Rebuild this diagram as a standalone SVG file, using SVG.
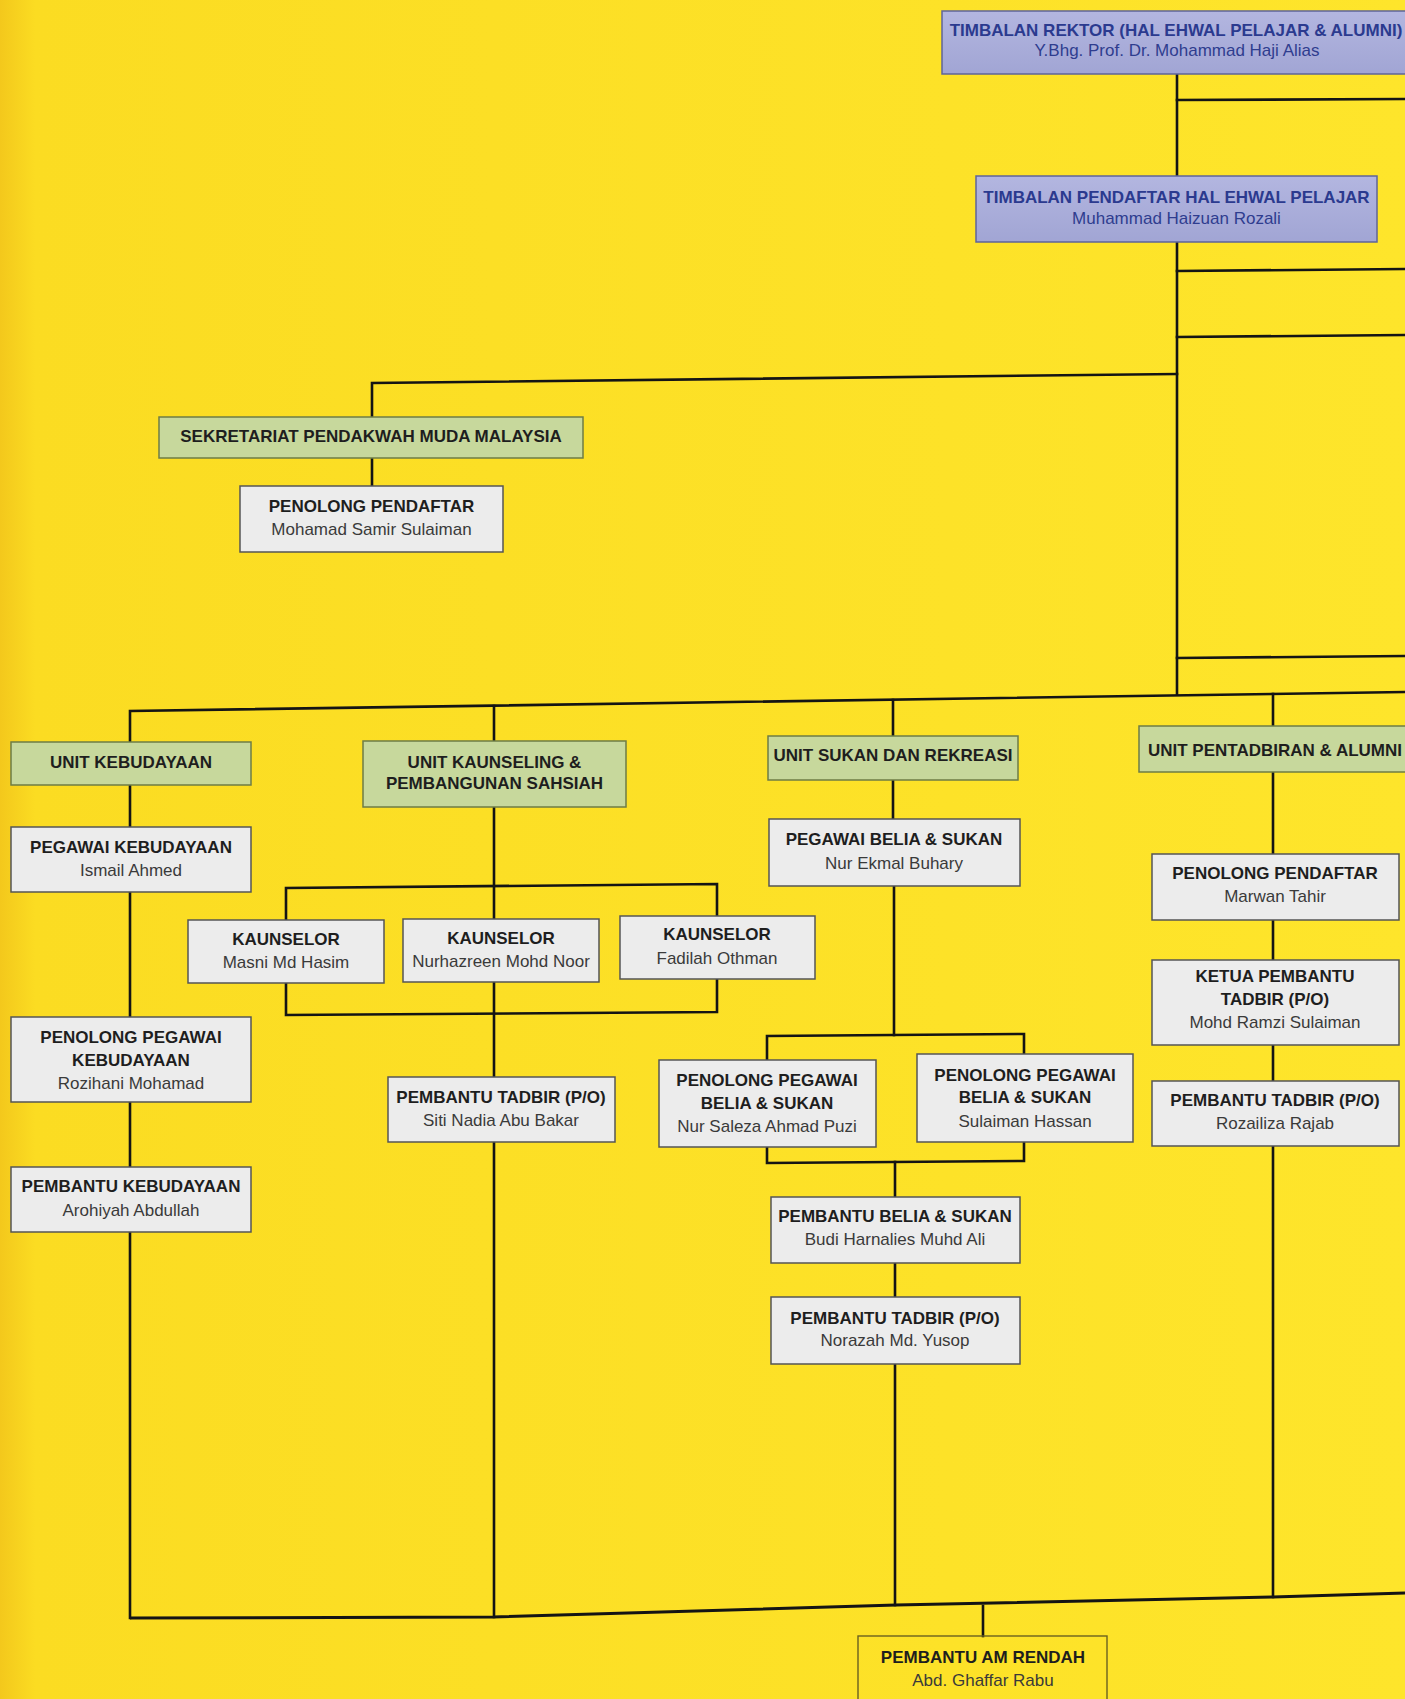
<svg xmlns="http://www.w3.org/2000/svg" width="1405" height="1699" viewBox="0 0 1405 1699">
<defs>
<linearGradient id="bgg" x1="0" y1="0" x2="1" y2="0">
<stop offset="0" stop-color="#f3c81c"/>
<stop offset="0.025" stop-color="#fbdc22"/>
<stop offset="1" stop-color="#fee52b"/>
</linearGradient>
<linearGradient id="lavg" x1="0" y1="0" x2="0" y2="1">
<stop offset="0" stop-color="#b3b6e0"/>
<stop offset="1" stop-color="#a1a5d4"/>
</linearGradient>
</defs>
<style>
.lav{fill:url(#lavg);stroke:#5f6499;stroke-width:1.5}
.grn{fill:#c7d89c;stroke:#6e7c45;stroke-width:1.5}
.wht{fill:#ececec;stroke:#555;stroke-width:1.5}
.pln{fill:none;stroke:#6a6120;stroke-width:1.4}
.t{font-family:'Liberation Sans',Arial,Helvetica,sans-serif;font-size:17px;text-anchor:middle}
.b{font-weight:bold;fill:#1e1e1e}
.n{fill:#3a3a3a}
.tb{font-weight:bold;fill:#2b3a8f}
.tn{fill:#2f3d8f}
.ln{fill:none;stroke:#141414;stroke-width:2.6;stroke-linejoin:miter;stroke-linecap:square}
.bus{fill:none;stroke:#141414;stroke-width:3}
</style>
<rect x="0" y="0" width="1405" height="1699" fill="url(#bgg)"/>

<g id="connectors">
<path class="ln" d="M1177,74 V176"/>
<path class="ln" d="M1177,100 L1405,99"/>
<path class="ln" d="M1177,242 V694"/>
<path class="ln" d="M1177,271 L1405,269"/>
<path class="ln" d="M1177,337 L1405,335"/>
<path class="ln" d="M1177,374 L372,383 V417"/>
<path class="ln" d="M372,458 V486"/>
<path class="ln" d="M1177,658 L1405,656"/>
<path class="ln" d="M130,742 V711 L1405,692"/>
<path class="ln" d="M494,706 V741"/>
<path class="ln" d="M893,700 V736"/>
<path class="ln" d="M1273,694 V726"/>
<path class="ln" d="M130,785 V827"/>
<path class="ln" d="M130,892 V1017"/>
<path class="ln" d="M130,1102 V1167"/>
<path class="ln" d="M130,1232 V1618"/>
<path class="ln" d="M494,807 V919"/>
<path class="ln" d="M286,920 V888 L717,884 V916"/>
<path class="ln" d="M286,983 V1015 L717,1012 V979"/>
<path class="ln" d="M494,982 V1077"/>
<path class="ln" d="M494,1142 V1617"/>
<path class="ln" d="M893,780 V819"/>
<path class="ln" d="M894,886 V1035"/>
<path class="ln" d="M767,1060 V1036 L1024,1034 V1054"/>
<path class="ln" d="M767,1147 V1163 L1024,1161 V1143"/>
<path class="ln" d="M895,1162 V1197"/>
<path class="ln" d="M895,1263 V1297"/>
<path class="ln" d="M895,1364 V1605"/>
<path class="ln" d="M1273,772 V854"/>
<path class="ln" d="M1273,920 V960"/>
<path class="ln" d="M1273,1045 V1081"/>
<path class="ln" d="M1273,1146 V1597"/>
<path class="bus" d="M130,1618 L493,1617 L896,1605 L1273,1597 L1405,1593"/>
<path class="ln" d="M983,1606 V1636"/>
</g>

<g id="n-timbalan-rektor">
<rect class="lav" x="942" y="11" width="472" height="63"/>
<text class="t tb" x="1176" y="35.5">TIMBALAN REKTOR (HAL EHWAL PELAJAR &amp; ALUMNI)</text>
<text class="t tn" x="1177" y="56">Y.Bhg. Prof. Dr. Mohammad Haji Alias</text>
</g>

<g id="n-timbalan-pendaftar">
<rect class="lav" x="976" y="176" width="401" height="66"/>
<text class="t tb" x="1176.5" y="203">TIMBALAN PENDAFTAR HAL EHWAL PELAJAR</text>
<text class="t tn" x="1176.5" y="224">Muhammad Haizuan Rozali</text>
</g>

<g id="n-sekretariat">
<rect class="grn" x="159" y="417" width="424" height="41"/>
<text class="t b" x="371" y="442">SEKRETARIAT PENDAKWAH MUDA MALAYSIA</text>
</g>

<g id="n-pp-samir">
<rect class="wht" x="240" y="486" width="263" height="66"/>
<text class="t b" x="371.5" y="512">PENOLONG PENDAFTAR</text>
<text class="t n" x="371.5" y="535">Mohamad Samir Sulaiman</text>
</g>

<g id="n-unit-kebudayaan">
<rect class="grn" x="11" y="742" width="240" height="43"/>
<text class="t b" x="131" y="768">UNIT KEBUDAYAAN</text>
</g>

<g id="n-unit-kaunseling">
<rect class="grn" x="363" y="741" width="263" height="66"/>
<text class="t b" x="494.5" y="768">UNIT KAUNSELING &amp;</text>
<text class="t b" x="494.5" y="789">PEMBANGUNAN SAHSIAH</text>
</g>

<g id="n-unit-sukan">
<rect class="grn" x="768" y="736" width="250" height="44"/>
<text class="t b" x="893" y="761">UNIT SUKAN DAN REKREASI</text>
</g>

<g id="n-unit-pentadbiran">
<rect class="grn" x="1139" y="726" width="273" height="46"/>
<text class="t b" x="1275" y="756">UNIT PENTADBIRAN &amp; ALUMNI</text>
</g>

<g id="n-pegawai-kebudayaan">
<rect class="wht" x="11" y="827" width="240" height="65"/>
<text class="t b" x="131" y="853">PEGAWAI KEBUDAYAAN</text>
<text class="t n" x="131" y="876">Ismail Ahmed</text>
</g>

<g id="n-kaunselor-masni">
<rect class="wht" x="188" y="920" width="196" height="63"/>
<text class="t b" x="286" y="945">KAUNSELOR</text>
<text class="t n" x="286" y="968">Masni Md Hasim</text>
</g>

<g id="n-kaunselor-nurhazreen">
<rect class="wht" x="403" y="919" width="196" height="63"/>
<text class="t b" x="501" y="944">KAUNSELOR</text>
<text class="t n" x="501" y="967">Nurhazreen Mohd Noor</text>
</g>

<g id="n-kaunselor-fadilah">
<rect class="wht" x="620" y="916" width="195" height="63"/>
<text class="t b" x="717" y="940">KAUNSELOR</text>
<text class="t n" x="717" y="964">Fadilah Othman</text>
</g>

<g id="n-penolong-pegawai-kebudayaan">
<rect class="wht" x="11" y="1017" width="240" height="85"/>
<text class="t b" x="131" y="1043">PENOLONG PEGAWAI</text>
<text class="t b" x="131" y="1066">KEBUDAYAAN</text>
<text class="t n" x="131" y="1089">Rozihani Mohamad</text>
</g>

<g id="n-pt-siti">
<rect class="wht" x="388" y="1077" width="227" height="65"/>
<text class="t b" x="501" y="1103">PEMBANTU TADBIR (P/O)</text>
<text class="t n" x="501" y="1126">Siti Nadia Abu Bakar</text>
</g>

<g id="n-pembantu-kebudayaan">
<rect class="wht" x="11" y="1167" width="240" height="65"/>
<text class="t b" x="131" y="1192">PEMBANTU KEBUDAYAAN</text>
<text class="t n" x="131" y="1216">Arohiyah Abdullah</text>
</g>

<g id="n-pegawai-belia">
<rect class="wht" x="769" y="819" width="251" height="67"/>
<text class="t b" x="894" y="845">PEGAWAI BELIA &amp; SUKAN</text>
<text class="t n" x="894" y="869">Nur Ekmal Buhary</text>
</g>

<g id="n-ppbs-saleza">
<rect class="wht" x="659" y="1060" width="217" height="87"/>
<text class="t b" x="767" y="1086">PENOLONG PEGAWAI</text>
<text class="t b" x="767" y="1109">BELIA &amp; SUKAN</text>
<text class="t n" x="767" y="1132">Nur Saleza Ahmad Puzi</text>
</g>

<g id="n-ppbs-sulaiman">
<rect class="wht" x="917" y="1054" width="216" height="88"/>
<text class="t b" x="1025" y="1081">PENOLONG PEGAWAI</text>
<text class="t b" x="1025" y="1103">BELIA &amp; SUKAN</text>
<text class="t n" x="1025" y="1127">Sulaiman Hassan</text>
</g>

<g id="n-pembantu-belia">
<rect class="wht" x="771" y="1197" width="249" height="66"/>
<text class="t b" x="895" y="1222">PEMBANTU BELIA &amp; SUKAN</text>
<text class="t n" x="895" y="1245">Budi Harnalies Muhd Ali</text>
</g>

<g id="n-pt-norazah">
<rect class="wht" x="771" y="1297" width="249" height="67"/>
<text class="t b" x="895" y="1324">PEMBANTU TADBIR (P/O)</text>
<text class="t n" x="895" y="1346">Norazah Md. Yusop</text>
</g>

<g id="n-pp-marwan">
<rect class="wht" x="1152" y="854" width="247" height="66"/>
<text class="t b" x="1275" y="879">PENOLONG PENDAFTAR</text>
<text class="t n" x="1275" y="902">Marwan Tahir</text>
</g>

<g id="n-ketua-pembantu">
<rect class="wht" x="1152" y="960" width="247" height="85"/>
<text class="t b" x="1275" y="982">KETUA PEMBANTU</text>
<text class="t b" x="1275" y="1005">TADBIR (P/O)</text>
<text class="t n" x="1275" y="1028">Mohd Ramzi Sulaiman</text>
</g>

<g id="n-pt-rozailiza">
<rect class="wht" x="1152" y="1081" width="247" height="65"/>
<text class="t b" x="1275" y="1106">PEMBANTU TADBIR (P/O)</text>
<text class="t n" x="1275" y="1129">Rozailiza Rajab</text>
</g>

<g id="n-pembantu-am">
<rect class="pln" x="858" y="1636" width="249" height="70"/>
<text class="t b" x="983" y="1663">PEMBANTU AM RENDAH</text>
<text class="t n" x="983" y="1686">Abd. Ghaffar Rabu</text>
</g>
</svg>
